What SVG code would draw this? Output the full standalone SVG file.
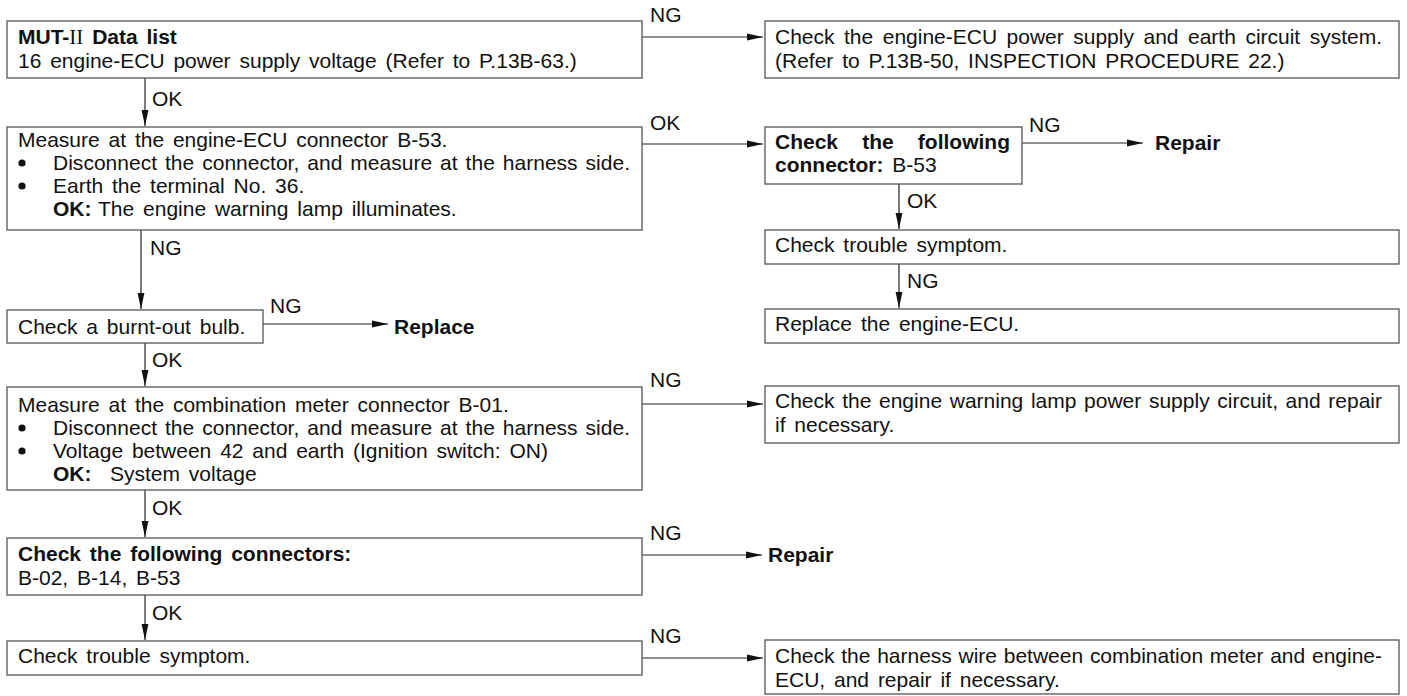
<svg xmlns="http://www.w3.org/2000/svg" width="1407" height="696" viewBox="0 0 1407 696">
<style>
.t{font-family:"Liberation Sans",Arial,sans-serif;font-size:21px;fill:#111;word-spacing:3px}
.b{font-weight:bold}
.rn{font-family:"Liberation Serif","Times New Roman",serif;font-weight:normal}
.box{fill:#fff;stroke:#555;stroke-width:1.3}
.ln{stroke:#222;stroke-width:1.2;fill:none}
.dot{fill:#111}
</style>
<defs>
<marker id="ah" markerUnits="userSpaceOnUse" markerWidth="17" markerHeight="8" refX="16" refY="4" orient="auto">
<path d="M0,0.6 L16,4 L0,7.4 Z" fill="#111"/>
</marker>
</defs>
<rect width="1407" height="696" fill="#fff"/>
<g id="connectors">
<line class="ln" x1="642" y1="37" x2="763" y2="37" marker-end="url(#ah)"/>
<text class="t" x="650" y="22">NG</text>
<line class="ln" x1="145" y1="78" x2="145" y2="126" marker-end="url(#ah)"/>
<text class="t" x="152" y="106">OK</text>
<line class="ln" x1="642" y1="144" x2="763" y2="144" marker-end="url(#ah)"/>
<text class="t" x="650" y="130">OK</text>
<line class="ln" x1="1022" y1="143" x2="1143" y2="143" marker-end="url(#ah)"/>
<text class="t" x="1029" y="132">NG</text>
<line class="ln" x1="899" y1="184" x2="899" y2="229" marker-end="url(#ah)"/>
<text class="t" x="907" y="208">OK</text>
<line class="ln" x1="899" y1="264" x2="899" y2="308" marker-end="url(#ah)"/>
<text class="t" x="907" y="288">NG</text>
<line class="ln" x1="141" y1="230" x2="141" y2="309" marker-end="url(#ah)"/>
<text class="t" x="150" y="255">NG</text>
<line class="ln" x1="263" y1="324" x2="388" y2="324" marker-end="url(#ah)"/>
<text class="t" x="270" y="313">NG</text>
<line class="ln" x1="145" y1="343" x2="145" y2="386" marker-end="url(#ah)"/>
<text class="t" x="152" y="367">OK</text>
<line class="ln" x1="642" y1="404" x2="763" y2="404" marker-end="url(#ah)"/>
<text class="t" x="650" y="387">NG</text>
<line class="ln" x1="145" y1="490" x2="145" y2="537" marker-end="url(#ah)"/>
<text class="t" x="152" y="515">OK</text>
<line class="ln" x1="642" y1="555" x2="762" y2="555" marker-end="url(#ah)"/>
<text class="t" x="650" y="540">NG</text>
<line class="ln" x1="145" y1="595" x2="145" y2="640" marker-end="url(#ah)"/>
<text class="t" x="152" y="620">OK</text>
<line class="ln" x1="642" y1="658" x2="763" y2="658" marker-end="url(#ah)"/>
<text class="t" x="650" y="643">NG</text>
</g>
<g id="n1">
<rect class="box" x="7" y="21" width="635" height="57"/>
<text class="t" x="18" y="44"><tspan class="b">MUT-</tspan><tspan class="rn">II</tspan><tspan class="b"> Data list</tspan></text>
<text class="t" x="18" y="68">16 engine-ECU power supply voltage (Refer to P.13B-63.)</text>
</g>
<g id="n2">
<rect class="box" x="765" y="21" width="634" height="57"/>
<text class="t" x="775" y="44" style="word-spacing:3.7px" textLength="607" lengthAdjust="spacing">Check the engine-ECU power supply and earth circuit system.</text>
<text class="t" x="775" y="68">(Refer to P.13B-50, INSPECTION PROCEDURE 22.)</text>
</g>
<g id="n3">
<rect class="box" x="7" y="127" width="635" height="103"/>
<text class="t" x="18" y="147">Measure at the engine-ECU connector B-53.</text>
<circle class="dot" cx="22" cy="163" r="3.6"/>
<text class="t" x="53" y="170" style="word-spacing:2.1px" textLength="577" lengthAdjust="spacing">Disconnect the connector, and measure at the harness side.</text>
<circle class="dot" cx="22" cy="186" r="3.6"/>
<text class="t" x="53" y="193">Earth the terminal No. 36.</text>
<text class="t" x="53" y="216"><tspan class="b">OK:</tspan></text>
<text class="t" x="98" y="216">The engine warning lamp illuminates.</text>
</g>
<g id="n4">
<rect class="box" x="765" y="127" width="257" height="57"/>
<text class="t b" x="775" y="149" style="word-spacing:18.3px" textLength="235" lengthAdjust="spacing">Check the following</text>
<text class="t" x="775" y="172"><tspan class="b">connector:</tspan> B-53</text>
</g>
<g id="n5">
<text class="t b" x="1155" y="150">Repair</text>
</g>
<g id="n6">
<rect class="box" x="765" y="230" width="634" height="34"/>
<text class="t" x="775" y="252">Check trouble symptom.</text>
</g>
<g id="n7">
<rect class="box" x="765" y="309" width="634" height="34"/>
<text class="t" x="775" y="331">Replace the engine-ECU.</text>
</g>
<g id="n8">
<rect class="box" x="7" y="310" width="256" height="33"/>
<text class="t" x="18" y="334">Check a burnt-out bulb.</text>
</g>
<g id="n9">
<text class="t b" x="394" y="334">Replace</text>
</g>
<g id="n10">
<rect class="box" x="7" y="387" width="635" height="103"/>
<text class="t" x="18" y="412">Measure at the combination meter connector B-01.</text>
<circle class="dot" cx="22" cy="428" r="3.6"/>
<text class="t" x="53" y="435" style="word-spacing:2.1px" textLength="577" lengthAdjust="spacing">Disconnect the connector, and measure at the harness side.</text>
<circle class="dot" cx="22" cy="451" r="3.6"/>
<text class="t" x="53" y="458">Voltage between 42 and earth (Ignition switch: ON)</text>
<text class="t" x="53" y="481"><tspan class="b">OK:</tspan></text>
<text class="t" x="110" y="481">System voltage</text>
</g>
<g id="n11">
<rect class="box" x="765" y="386" width="634" height="57"/>
<text class="t" x="775" y="408" style="word-spacing:1.8px" textLength="607" lengthAdjust="spacing">Check the engine warning lamp power supply circuit, and repair</text>
<text class="t" x="775" y="432">if necessary.</text>
</g>
<g id="n12">
<rect class="box" x="7" y="538" width="635" height="57"/>
<text class="t b" x="18" y="561">Check the following connectors:</text>
<text class="t" x="18" y="585">B-02, B-14, B-53</text>
</g>
<g id="n13">
<text class="t b" x="768" y="562">Repair</text>
</g>
<g id="n14">
<rect class="box" x="7" y="641" width="635" height="34"/>
<text class="t" x="18" y="663">Check trouble symptom.</text>
</g>
<g id="n15">
<rect class="box" x="765" y="640" width="634" height="54"/>
<text class="t" x="775" y="663" style="word-spacing:0.9px" textLength="607" lengthAdjust="spacing">Check the harness wire between combination meter and engine-</text>
<text class="t" x="775" y="687">ECU, and repair if necessary.</text>
</g>
</svg>
